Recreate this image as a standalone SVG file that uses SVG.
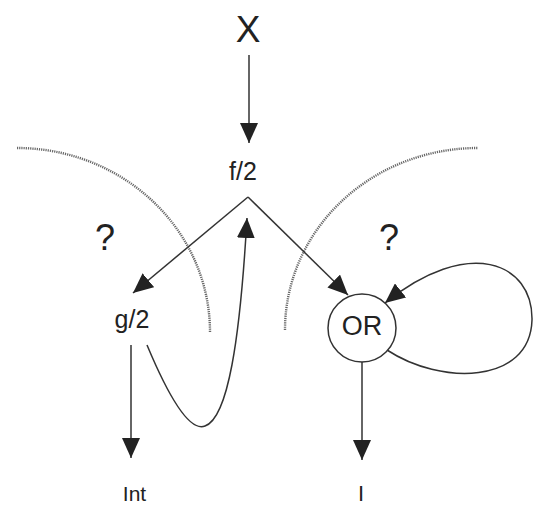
<svg xmlns="http://www.w3.org/2000/svg" width="534" height="506" viewBox="0 0 534 506">
<style>
text{font-family:"Liberation Sans",Arial,sans-serif;fill:#222;text-anchor:middle}
.ln{fill:none;stroke:#333;stroke-width:1.5}
.dot{fill:none;stroke:#666;stroke-width:2.4;stroke-dasharray:1.2 1}
</style>
<defs>
<marker id="ah" markerUnits="userSpaceOnUse" markerWidth="20" markerHeight="18" refX="20" refY="9" orient="auto">
<path d="M0,0 L20,9 L0,18 z" fill="#222"/>
</marker>
</defs>
<rect width="534" height="506" fill="#fff"/>
<g id="boundaries">
<path class="dot" d="M17,148 A193,184 0 0 1 210,332"/>
<path class="dot" d="M285,330 A193,182 0 0 1 478,148"/>
</g>
<g id="connectors">
<path class="ln" d="M249,55 L249,143" marker-end="url(#ah)"/>
<path class="ln" d="M248,197 L133,293" marker-end="url(#ah)"/>
<path class="ln" d="M248,197 L348,295" marker-end="url(#ah)"/>
<path class="ln" d="M131,345 L131,458" marker-end="url(#ah)"/>
<path class="ln" d="M362,362 L362,460" marker-end="url(#ah)"/>
<path class="ln" d="M147,345 C170,400 190,432 205,426 C228,418 240,340 247,218" marker-end="url(#ah)"/>
<path class="ln" d="M387,350 C440,385 530,385 532,320 C533,262 468,236 385,303" marker-end="url(#ah)"/>
</g>
<g id="node-X"><text x="248" y="42" font-size="37">X</text></g>
<g id="node-f2"><text x="243" y="180" font-size="25">f/2</text></g>
<g id="node-g2"><text x="132" y="328" font-size="25">g/2</text></g>
<g id="node-OR"><circle cx="362" cy="328" r="34" fill="#fff" stroke="#333" stroke-width="1.5"/><text x="362" y="335" font-size="27">OR</text></g>
<g id="node-Int"><text x="134.5" y="501" font-size="21">Int</text></g>
<g id="node-I"><text x="361" y="501" font-size="22">I</text></g>
<g id="q-left"><text x="105" y="250" font-size="36">?</text></g>
<g id="q-right"><text x="389" y="250" font-size="36">?</text></g>
</svg>
